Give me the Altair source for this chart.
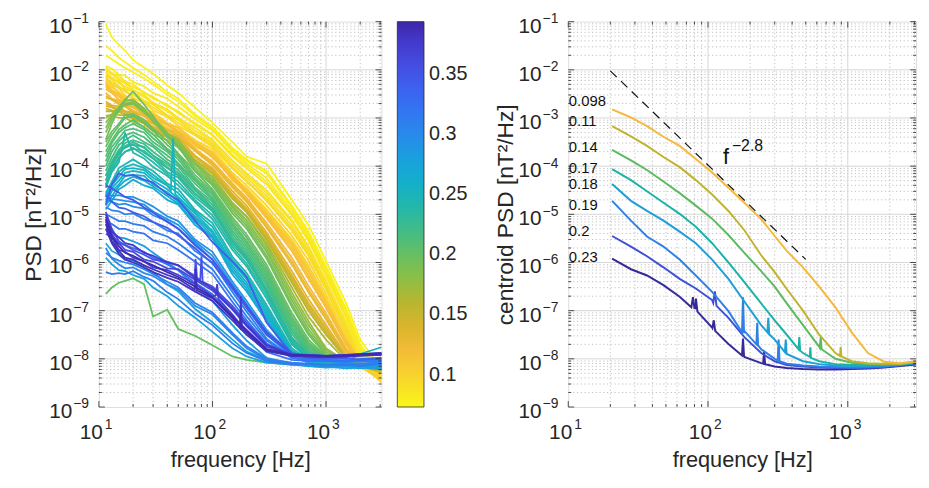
import altair as alt
import pandas as pd

FONT = "Liberation Sans"
INK = "#262626"

XMIN, XMAX = 10, 3080
YMIN, YMAX = 1e-9, 1e-1

# ---------------- left panel: individual spectra (log10 PSD) ----------------
FREQ_L = [11.5, 13, 15, 17, 20, 25, 30, 40, 50, 70, 100, 150, 200, 300, 500, 700, 1000, 1500, 2000, 3070]

CURVES_L = {
    "Y1": (0.076, [-1.05, -1.32, -1.48, -1.60, -1.80, -1.95, -2.08, -2.32, -2.48, -2.78, -3.10, -3.50, -3.80, -3.95, -4.70, -5.22, -5.97, -6.84, -7.60, -8.22]),
    "Y11": (0.078, [-1.70, -1.78, -1.88, -1.96, -2.05, -2.18, -2.30, -2.52, -2.66, -2.96, -3.22, -3.66, -3.90, -4.15, -4.86, -5.40, -6.14, -7.00, -7.76, -8.34]),
    "Y2": (0.079, [-1.50, -1.60, -1.75, -1.84, -1.96, -2.10, -2.24, -2.46, -2.60, -2.92, -3.18, -3.62, -3.86, -4.10, -4.82, -5.35, -6.08, -6.95, -7.70, -8.30]),
    "Y3": (0.082, [-1.92, -1.98, -2.10, -2.12, -2.25, -2.34, -2.48, -2.60, -2.76, -3.02, -3.26, -3.70, -3.95, -4.25, -4.92, -5.45, -6.18, -7.05, -7.80, -8.25]),
    "Y12": (0.083, [-2.00, -2.10, -2.18, -2.26, -2.36, -2.46, -2.60, -2.72, -2.90, -3.10, -3.34, -3.76, -4.00, -4.32, -4.98, -5.50, -6.24, -7.10, -7.84, -8.28]),
    "Y4": (0.085, [-1.95, -2.08, -2.12, -2.24, -2.30, -2.48, -2.56, -2.76, -2.86, -3.14, -3.36, -3.80, -4.05, -4.38, -5.02, -5.55, -6.28, -7.15, -7.88, -8.38]),
    "Y13": (0.087, [-2.10, -2.16, -2.28, -2.34, -2.46, -2.56, -2.70, -2.86, -3.02, -3.26, -3.48, -3.90, -4.18, -4.56, -5.16, -5.70, -6.42, -7.30, -7.98, -8.36]),
    "Y5": (0.088, [-2.02, -2.06, -2.22, -2.28, -2.42, -2.52, -2.68, -2.82, -3.00, -3.20, -3.45, -3.88, -4.15, -4.50, -5.12, -5.66, -6.38, -7.25, -7.95, -8.28]),
    "Y6": (0.091, [-2.05, -2.18, -2.24, -2.40, -2.46, -2.64, -2.72, -2.94, -3.04, -3.32, -3.52, -3.96, -4.24, -4.62, -5.24, -5.76, -6.48, -7.35, -8.02, -8.42]),
    "Y14": (0.093, [-2.18, -2.26, -2.34, -2.46, -2.52, -2.66, -2.78, -2.96, -3.10, -3.34, -3.56, -4.02, -4.30, -4.68, -5.30, -5.82, -6.52, -7.40, -8.06, -8.44]),
    "Y7": (0.094, [-2.12, -2.20, -2.36, -2.42, -2.58, -2.68, -2.84, -2.98, -3.16, -3.36, -3.60, -4.05, -4.32, -4.72, -5.34, -5.86, -6.56, -7.45, -8.08, -8.30]),
    "Y8": (0.097, [-2.15, -2.30, -2.38, -2.54, -2.60, -2.80, -2.88, -3.10, -3.20, -3.46, -3.65, -4.14, -4.40, -4.82, -5.44, -5.96, -6.66, -7.52, -8.12, -8.48]),
    "Y15": (0.099, [-2.28, -2.36, -2.46, -2.60, -2.66, -2.84, -2.94, -3.12, -3.26, -3.54, -3.72, -4.20, -4.48, -4.94, -5.56, -6.10, -6.76, -7.62, -8.14, -8.36]),
    "Y9": (0.100, [-2.22, -2.32, -2.48, -2.56, -2.72, -2.82, -3.00, -3.12, -3.32, -3.50, -3.70, -4.22, -4.46, -4.90, -5.52, -6.06, -6.74, -7.60, -8.15, -8.32]),
    "Y16": (0.102, [-2.32, -2.44, -2.54, -2.62, -2.76, -2.88, -3.00, -3.20, -3.34, -3.56, -3.76, -4.26, -4.56, -5.02, -5.64, -6.20, -6.86, -7.70, -8.16, -8.42]),
    "Y10": (0.104, [-2.25, -2.42, -2.50, -2.68, -2.76, -2.94, -3.02, -3.24, -3.36, -3.60, -3.74, -4.30, -4.52, -4.98, -5.60, -6.16, -6.80, -7.66, -8.18, -8.40]),
    "O1": (0.110, [-2.30, -2.44, -2.50, -2.62, -2.66, -2.84, -2.92, -3.12, -3.20, -3.50, -3.72, -4.18, -4.50, -5.00, -5.62, -6.20, -6.82, -7.60, -8.05, -8.22]),
    "O9": (0.113, [-2.36, -2.46, -2.56, -2.64, -2.72, -2.86, -2.98, -3.14, -3.26, -3.52, -3.78, -4.22, -4.54, -5.04, -5.70, -6.28, -6.88, -7.66, -8.08, -8.26]),
    "O2": (0.116, [-2.40, -2.48, -2.62, -2.66, -2.78, -2.86, -3.02, -3.14, -3.30, -3.54, -3.82, -4.26, -4.58, -5.08, -5.76, -6.34, -6.94, -7.70, -8.10, -8.30]),
    "O3": (0.122, [-2.48, -2.60, -2.64, -2.74, -2.78, -2.94, -3.04, -3.24, -3.30, -3.64, -3.90, -4.36, -4.66, -5.18, -5.90, -6.48, -7.06, -7.78, -8.12, -8.18]),
    "O10": (0.125, [-2.54, -2.62, -2.68, -2.76, -2.84, -2.96, -3.08, -3.26, -3.36, -3.66, -3.94, -4.40, -4.70, -5.24, -5.98, -6.56, -7.12, -7.82, -8.12, -8.22]),
    "O4": (0.128, [-2.58, -2.62, -2.72, -2.76, -2.88, -2.96, -3.12, -3.24, -3.40, -3.68, -3.98, -4.44, -4.74, -5.28, -6.04, -6.62, -7.18, -7.86, -8.15, -8.26]),
    "O5": (0.134, [-2.66, -2.74, -2.76, -2.86, -2.88, -3.04, -3.12, -3.32, -3.40, -3.78, -4.04, -4.52, -4.82, -5.38, -6.18, -6.76, -7.30, -7.92, -8.12, -8.16]),
    "O11": (0.138, [-2.70, -2.76, -2.82, -2.86, -2.92, -3.06, -3.18, -3.32, -3.46, -3.80, -4.08, -4.58, -4.88, -5.42, -6.26, -6.84, -7.36, -7.96, -8.14, -8.24]),
    "O6": (0.143, [-2.75, -2.78, -2.86, -2.88, -2.97, -3.06, -3.22, -3.34, -3.50, -3.80, -4.10, -4.60, -4.90, -5.46, -6.30, -6.88, -7.40, -7.98, -8.15, -8.28]),
    "O12": (0.150, [-2.80, -2.84, -2.88, -2.92, -3.00, -3.10, -3.24, -3.38, -3.52, -3.86, -4.14, -4.64, -4.94, -5.50, -6.36, -6.94, -7.46, -8.00, -8.12, -8.22]),
    "O7": (0.158, [-2.86, -2.86, -2.94, -2.94, -3.02, -3.12, -3.28, -3.40, -3.56, -3.88, -4.16, -4.68, -4.96, -5.54, -6.42, -7.00, -7.50, -8.00, -8.12, -8.20]),
    "O8": (0.166, [-2.95, -2.94, -3.00, -3.00, -3.08, -3.18, -3.34, -3.46, -3.62, -3.94, -4.22, -4.76, -5.04, -5.60, -6.52, -7.12, -7.60, -8.04, -8.10, -8.24]),
    "G1": (0.176, [-3.00, -2.92, -2.78, -2.74, -2.70, -2.90, -3.04, -3.32, -3.44, -3.92, -4.22, -4.78, -5.05, -5.65, -6.62, -7.22, -7.78, -8.05, -8.10, -8.15]),
    "G10": (0.182, [-3.10, -2.94, -2.80, -2.70, -2.66, -2.84, -3.00, -3.30, -3.50, -3.94, -4.28, -4.82, -5.12, -5.72, -6.70, -7.30, -7.82, -8.05, -8.12, -8.16]),
    "G2": (0.187, [-3.20, -2.98, -2.84, -2.64, -2.62, -2.80, -3.08, -3.34, -3.56, -3.96, -4.32, -4.86, -5.18, -5.78, -6.78, -7.38, -7.86, -8.06, -8.12, -8.18]),
    "G11": (0.191, [-3.30, -3.04, -2.86, -2.72, -2.70, -2.86, -3.06, -3.38, -3.58, -4.02, -4.36, -4.92, -5.24, -5.86, -6.86, -7.45, -7.90, -8.08, -8.10, -8.14]),
    "G3": (0.196, [-3.45, -3.12, -2.78, -2.62, -2.45, -2.72, -2.96, -3.40, -3.60, -4.08, -4.40, -4.98, -5.30, -5.92, -6.92, -7.50, -7.92, -8.08, -8.10, -8.12]),
    "G4": (0.199, [-3.50, -3.28, -3.12, -2.94, -2.92, -3.04, -3.22, -3.48, -3.74, -4.10, -4.48, -5.06, -5.42, -6.05, -7.05, -7.60, -7.95, -8.10, -8.12, -8.20]),
    "G9": (0.200, [-6.65, -6.52, -6.42, -6.38, -6.33, -6.45, -7.12, -6.98, -7.38, -7.52, -7.72, -7.95, -8.02, -8.08, -8.12, -8.12, -8.10, -8.14, -8.15, -8.10]),
    "G12": (0.203, [-3.60, -3.36, -3.16, -3.00, -2.96, -3.10, -3.26, -3.56, -3.76, -4.18, -4.52, -5.12, -5.48, -6.12, -7.12, -7.66, -7.96, -8.10, -8.14, -8.18]),
    "G5": (0.206, [-3.70, -3.46, -3.24, -3.14, -3.04, -3.20, -3.34, -3.64, -3.80, -4.24, -4.56, -5.18, -5.55, -6.18, -7.18, -7.70, -7.98, -8.10, -8.14, -8.15]),
    "G13": (0.209, [-3.80, -3.52, -3.30, -3.20, -3.12, -3.24, -3.42, -3.66, -3.86, -4.28, -4.60, -5.22, -5.60, -6.24, -7.24, -7.74, -8.00, -8.12, -8.12, -8.16]),
    "G6": (0.212, [-3.90, -3.60, -3.42, -3.26, -3.22, -3.30, -3.50, -3.70, -3.94, -4.30, -4.66, -5.28, -5.66, -6.30, -7.30, -7.78, -8.00, -8.12, -8.12, -8.18]),
    "G14": (0.215, [-4.00, -3.70, -3.48, -3.36, -3.30, -3.40, -3.56, -3.78, -3.96, -4.36, -4.70, -5.34, -5.72, -6.36, -7.36, -7.82, -8.02, -8.10, -8.14, -8.20]),
    "G7": (0.218, [-4.10, -3.82, -3.56, -3.46, -3.36, -3.50, -3.60, -3.86, -4.00, -4.44, -4.74, -5.40, -5.78, -6.42, -7.42, -7.85, -8.02, -8.10, -8.14, -8.22]),
    "G15": (0.221, [-4.20, -3.90, -3.66, -3.52, -3.46, -3.54, -3.70, -3.92, -4.08, -4.48, -4.80, -5.46, -5.84, -6.48, -7.48, -7.88, -8.04, -8.12, -8.12, -8.16]),
    "G8": (0.224, [-4.30, -3.98, -3.76, -3.60, -3.56, -3.60, -3.78, -3.96, -4.14, -4.50, -4.86, -5.52, -5.88, -6.55, -7.55, -7.90, -8.05, -8.12, -8.10, -8.15]),
    "G16": (0.227, [-4.40, -4.08, -3.84, -3.70, -3.64, -3.68, -3.84, -4.04, -4.20, -4.58, -4.90, -5.56, -5.92, -6.58, -7.58, -7.92, -8.06, -8.12, -8.14, -8.18]),
    "G17": (0.229, [-4.20, -3.94, -3.72, -3.58, -3.50, -3.62, -3.78, -4.02, -4.18, -4.56, -4.88, -5.56, -5.90, -6.58, -7.58, -7.92, -8.06, -8.12, -8.14, -8.14]),
    "C1": (0.232, [-4.30, -4.02, -3.70, -3.62, -3.54, -3.72, -3.84, -4.12, -4.24, -4.64, -4.94, -5.62, -5.95, -6.62, -7.62, -7.95, -8.08, -8.12, -8.15, -8.12]),
    "C9": (0.236, [-4.38, -4.08, -3.82, -3.70, -3.62, -3.78, -3.92, -4.16, -4.32, -4.70, -5.02, -5.68, -6.02, -6.68, -7.66, -7.98, -8.10, -8.14, -8.14, -8.16]),
    "C2": (0.240, [-4.45, -4.12, -3.92, -3.32, -3.72, -3.84, -4.02, -4.20, -4.40, -4.74, -5.10, -5.74, -6.08, -6.75, -7.70, -8.00, -8.10, -8.15, -8.12, -8.18]),
    "C3": (0.245, [-4.55, -4.32, -4.04, -3.96, -3.86, -4.00, -4.10, -4.36, -4.48, -4.90, -5.18, -5.88, -6.22, -6.88, -7.78, -8.02, -8.10, -8.12, -8.16, -8.14]),
    "C10": (0.249, [-4.60, -4.36, -4.12, -4.02, -3.96, -4.04, -4.18, -4.40, -4.56, -4.94, -5.26, -5.94, -6.28, -6.94, -7.82, -8.04, -8.12, -8.14, -8.16, -8.18]),
    "C4": (0.252, [-4.65, -4.40, -4.22, -4.06, -4.04, -4.08, -4.24, -4.40, -4.64, -4.98, -5.34, -6.00, -6.35, -7.00, -7.85, -8.05, -8.12, -8.14, -8.15, -8.20]),
    "C11": (0.256, [-4.70, -4.46, -4.30, -4.14, -4.10, -4.14, -4.30, -4.48, -4.68, -5.04, -5.38, -6.06, -6.42, -7.06, -7.88, -8.06, -8.12, -8.15, -8.14, -8.12]),
    "C5": (0.260, [-4.75, -4.52, -4.38, -4.20, -4.18, -4.20, -4.38, -4.54, -4.74, -5.08, -5.44, -6.12, -6.48, -7.12, -7.90, -8.06, -8.10, -8.15, -8.12, -8.16]),
    "C12": (0.264, [-4.82, -4.62, -4.42, -4.30, -4.22, -4.30, -4.42, -4.62, -4.78, -5.16, -5.48, -6.18, -6.54, -7.18, -7.92, -8.08, -8.12, -8.14, -8.16, -8.18]),
    "C6": (0.268, [-4.90, -4.72, -4.48, -4.40, -4.28, -4.40, -4.46, -4.70, -4.80, -5.22, -5.50, -6.25, -6.60, -7.22, -7.95, -8.08, -8.12, -8.06, -7.90, -7.76]),
    "C7": (0.272, [-5.60, -5.76, -5.84, -5.94, -5.96, -6.12, -6.20, -6.46, -6.60, -6.96, -7.24, -7.60, -7.85, -8.02, -8.10, -8.15, -8.18, -8.16, -8.20, -8.15]),
    "C8": (0.278, [-5.90, -6.04, -6.16, -6.18, -6.26, -6.34, -6.52, -6.70, -6.90, -7.14, -7.44, -7.78, -7.95, -8.08, -8.12, -8.15, -8.16, -8.20, -8.18, -8.22]),
    "C13": (0.283, [-5.30, -5.40, -5.48, -5.50, -5.56, -5.66, -5.80, -6.00, -6.16, -6.50, -6.80, -7.30, -7.62, -7.98, -8.10, -8.14, -8.15, -8.16, -8.14, -8.18]),
    "B2": (0.290, [-4.55, -4.62, -4.60, -4.64, -4.64, -4.74, -4.84, -5.04, -5.14, -5.52, -5.78, -6.40, -6.80, -7.40, -7.92, -8.02, -8.05, -8.08, -8.05, -8.10]),
    "B9": (0.294, [-4.62, -4.68, -4.70, -4.72, -4.74, -4.80, -4.94, -5.10, -5.22, -5.56, -5.86, -6.46, -6.86, -7.46, -7.94, -8.02, -8.04, -8.06, -8.04, -8.06]),
    "B3": (0.298, [-4.70, -4.74, -4.80, -4.78, -4.84, -4.88, -5.02, -5.14, -5.30, -5.60, -5.94, -6.52, -6.92, -7.50, -7.95, -8.02, -8.04, -8.06, -8.05, -8.02]),
    "B7": (0.300, [-5.70, -5.92, -6.04, -6.12, -6.10, -6.22, -6.28, -6.46, -6.56, -6.90, -7.08, -7.50, -7.78, -8.02, -8.10, -8.12, -8.12, -8.14, -8.10, -8.12]),
    "B4": (0.305, [-4.85, -4.92, -4.94, -5.00, -4.98, -5.10, -5.16, -5.34, -5.40, -5.76, -6.00, -6.62, -7.02, -7.58, -7.96, -8.00, -8.05, -8.02, -8.06, -8.05]),
    "B11": (0.308, [-5.80, -5.90, -5.96, -6.00, -6.04, -6.14, -6.24, -6.40, -6.52, -6.84, -7.04, -7.46, -7.74, -8.00, -8.08, -8.10, -8.12, -8.10, -8.12, -8.08]),
    "B5": (0.312, [-5.00, -5.06, -5.14, -5.14, -5.20, -5.24, -5.36, -5.46, -5.60, -5.86, -6.14, -6.72, -7.12, -7.62, -7.98, -8.02, -8.03, -8.05, -8.02, -8.04]),
    "B8": (0.315, [-6.20, -6.24, -6.22, -6.24, -6.18, -6.30, -6.38, -6.62, -6.76, -7.06, -7.30, -7.68, -7.88, -8.05, -8.12, -8.10, -8.14, -8.12, -8.15, -8.10]),
    "B6": (0.320, [-5.15, -5.20, -5.30, -5.30, -5.36, -5.40, -5.54, -5.60, -5.74, -5.98, -6.24, -6.82, -7.20, -7.68, -7.98, -8.00, -8.02, -8.04, -8.00, -7.98]),
    "B10": (0.325, [-5.40, -5.50, -5.60, -5.64, -5.70, -5.78, -5.90, -6.04, -6.16, -6.42, -6.66, -7.12, -7.46, -7.86, -8.02, -8.04, -8.04, -8.05, -8.02, -8.00]),
    "B1": (0.340, [-4.80, -4.38, -4.15, -4.20, -4.18, -4.28, -4.34, -4.58, -4.70, -5.12, -5.58, -5.98, -6.30, -7.25, -7.90, -7.98, -8.00, -7.98, -8.02, -7.98]),
    "I6": (0.345, [-4.60, -4.74, -4.86, -4.88, -4.96, -5.04, -5.16, -5.28, -5.44, -5.70, -6.02, -6.55, -6.95, -7.50, -7.90, -7.95, -7.96, -7.95, -7.94, -7.92]),
    "I7": (0.350, [-4.40, -4.46, -4.55, -4.64, -4.70, -4.86, -4.96, -5.16, -5.30, -5.64, -5.94, -6.50, -6.90, -7.45, -7.88, -7.94, -7.95, -7.94, -7.92, -7.90]),
    "I1": (0.355, [-4.95, -5.30, -5.56, -5.64, -5.74, -5.84, -5.94, -5.98, -6.06, -6.28, -6.50, -6.90, -7.25, -7.70, -7.90, -7.92, -7.94, -7.92, -7.90, -7.88]),
    "I2": (0.362, [-5.05, -5.42, -5.60, -5.74, -5.78, -5.94, -5.98, -6.12, -6.14, -6.36, -6.58, -6.98, -7.32, -7.75, -7.92, -7.94, -7.95, -7.93, -7.92, -7.90]),
    "I3": (0.370, [-5.15, -5.48, -5.74, -5.78, -5.90, -5.98, -6.10, -6.16, -6.26, -6.44, -6.70, -7.08, -7.40, -7.80, -7.93, -7.95, -7.96, -7.94, -7.92, -7.90]),
    "I4": (0.378, [-5.00, -5.36, -5.48, -5.60, -5.64, -5.80, -5.86, -6.00, -6.06, -6.32, -6.54, -6.95, -7.30, -7.72, -7.92, -7.92, -7.94, -7.92, -7.90, -7.88]),
    "I9": (0.382, [-5.30, -5.60, -5.82, -5.94, -6.00, -6.10, -6.20, -6.32, -6.40, -6.60, -6.80, -7.20, -7.50, -7.84, -7.94, -7.95, -7.96, -7.95, -7.93, -7.92]),
    "I5": (0.386, [-5.20, -5.56, -5.76, -5.90, -5.94, -6.06, -6.14, -6.26, -6.34, -6.56, -6.74, -7.15, -7.45, -7.82, -7.94, -7.95, -7.96, -7.95, -7.93, -7.90]),
    "I8": (0.392, [-5.10, -5.46, -5.66, -5.80, -5.86, -5.98, -6.06, -6.20, -6.30, -6.50, -6.72, -7.12, -7.42, -7.80, -7.92, -7.93, -7.94, -7.93, -7.91, -7.88]),
}

# narrow spectral peaks: (frequency, log10 PSD)
SPIKES_L = {
    "C4": [(43, -4.50), (45, -3.42), (47, -4.58)],
    "I1": [(69, -6.27), (71, -5.93), (73, -6.31), (78, -6.37), (80, -5.87), (82, -6.40)],
    "I3": [(107, -6.68), (110, -6.45), (113, -6.76), (175, -7.28), (178, -6.70), (181, -7.30)],
    "I5": [(69, -6.55), (71, -6.12), (73, -6.58), (175, -7.36), (178, -6.95), (181, -7.38)],
}

# colour bar (parula, reversed)
CB_STOPS = [0.073, 0.095, 0.115, 0.135, 0.155, 0.18, 0.205, 0.23, 0.255, 0.28, 0.305, 0.33, 0.355, 0.38, 0.394]
CB_COLORS = ["#F9F718", "#F8D92A", "#F9BE3A", "#E2B52E", "#C3B42A", "#8DBF45", "#5DBF6A", "#2EBA98",
             "#13B3C5", "#1AA0DE", "#2B85EE", "#386BF5", "#4550E6", "#4336C7", "#3E27A8"]
CB_TICKS = [0.1, 0.15, 0.2, 0.25, 0.3, 0.35]

# ---------------- right panel: centroid spectra (log10 PSD) ----------------
FREQ_R = [20.6, 28.1, 36.6, 48, 62.7, 81.8, 107, 140, 182, 240, 300, 366, 478, 625, 816, 1067, 1393, 1820, 2377, 3070]
CENTROID_LABELS = ["0.098", "0.11", "0.14", "0.17", "0.18", "0.19", "0.2", "0.23"]
CENTROID_COLORS = ["#F5B93A", "#C0B42C", "#5DBA62", "#1BB3A8", "#1E9FD6", "#2F80E6", "#3F4FD6", "#362A96"]
CENTROID_LOGPSD = [
    [-2.82, -2.99, -3.17, -3.39, -3.58, -3.85, -4.13, -4.45, -4.76, -5.10, -5.45, -5.76, -6.10, -6.50, -6.93, -7.45, -7.88, -8.06, -8.09, -8.05],
    [-3.17, -3.38, -3.58, -3.81, -4.02, -4.29, -4.59, -4.93, -5.33, -5.85, -6.20, -6.55, -7.00, -7.50, -7.88, -8.05, -8.09, -8.10, -8.10, -8.06],
    [-3.66, -3.88, -4.08, -4.32, -4.56, -4.82, -5.09, -5.43, -5.80, -6.18, -6.50, -6.85, -7.30, -7.75, -8.00, -8.08, -8.11, -8.12, -8.11, -8.07],
    [-4.06, -4.29, -4.52, -4.76, -4.99, -5.26, -5.60, -6.00, -6.41, -6.85, -7.20, -7.50, -7.88, -8.05, -8.11, -8.13, -8.13, -8.13, -8.12, -8.08],
    [-4.37, -4.72, -4.93, -5.13, -5.36, -5.60, -5.94, -6.34, -6.81, -7.30, -7.60, -7.90, -8.05, -8.11, -8.14, -8.15, -8.15, -8.14, -8.12, -8.08],
    [-4.72, -5.13, -5.46, -5.67, -5.94, -6.27, -6.61, -7.01, -7.42, -7.80, -8.00, -8.10, -8.14, -8.16, -8.17, -8.18, -8.17, -8.16, -8.13, -8.09],
    [-5.45, -5.67, -5.87, -6.10, -6.34, -6.54, -6.78, -7.15, -7.55, -7.88, -8.05, -8.13, -8.16, -8.18, -8.19, -8.19, -8.19, -8.17, -8.14, -8.10],
    [-5.92, -6.14, -6.27, -6.47, -6.71, -6.95, -7.35, -7.69, -7.96, -8.09, -8.16, -8.19, -8.21, -8.22, -8.22, -8.21, -8.20, -8.18, -8.15, -8.12],
]
SPIKES_R = {
    "0.23": [(76, -6.93), (78, -6.72), (80, -6.95), (82, -6.75), (84, -7.02), (107.5, -7.36), (110, -7.20), (112.5, -7.42),
             (175, -7.93), (178, -7.58), (181, -7.95), (248, -8.10), (252, -7.85), (256, -8.11)],
    "0.2": [(109, -6.84), (112, -6.60), (115, -6.90)],
    "0.19": [(175, -7.45), (178, -6.72), (181, -7.47), (222, -7.70), (225, -7.25), (228, -7.72), (315, -8.03), (320, -7.60), (325, -8.05)],
    "0.18": [(266, -7.45), (270, -7.15), (274, -7.49), (355, -7.86), (360, -7.60), (365, -7.89)],
    "0.17": [(444, -7.80), (450, -7.55), (456, -7.83), (535, -7.96), (540, -7.76), (545, -7.98)],
    "0.14": [(630, -7.77), (640, -7.55), (650, -7.80)],
    "0.11": [(880, -7.94), (890, -7.75), (900, -7.95)],
}
LABEL_F_R = 10.1
LABEL_PSD_R = [2.26e-3, 8.7e-4, 2.5e-4, 9.1e-5, 4.3e-5, 1.55e-5, 4.4e-6, 1.3e-6]

SLOPE_F = [20, 500]
SLOPE_PSD = [9.5e-3, 1.16e-6]
SLOPE_TEXT_F, SLOPE_TEXT_PSD = 128, 1.12e-4

# ---------------- axes: decades, minor ticks ----------------
Y_DECADES = [1e-9, 1e-8, 1e-7, 1e-6, 1e-5, 1e-4, 1e-3, 1e-2, 1e-1]
Y_EXP = ["\u22129", "\u22128", "\u22127", "\u22126", "\u22125", "\u22124", "\u22123", "\u22122", "\u22121"]
X_DECADES = [10, 100, 1000]
X_EXP = ["1", "2", "3"]
X_MINOR = [20, 30, 40, 50, 60, 70, 80, 90, 200, 300, 400, 500, 600, 700, 800, 900, 2000, 3000]
Y_MINOR = [k * d for d in Y_DECADES[:-1] for k in range(2, 10)]

W_L, W_R, H = 286, 352, 390


def axes(ytitle, ytitle_pad):
    ax_x = alt.Axis(title="frequency [Hz]", labels=False, ticks=False, domain=False, grid=False,
                    titleFont=FONT, titleFontSize=22, titleFontWeight="normal", titleColor=INK,
                    titlePadding=43, minExtent=0, maxExtent=0)
    ax_y = alt.Axis(title=ytitle, labels=False, ticks=False, domain=False, grid=False,
                    titleFont=FONT, titleFontSize=23, titleFontWeight="normal", titleColor=INK,
                    titlePadding=ytitle_pad, minExtent=0, maxExtent=0)
    X = lambda: alt.X("f:Q", scale=alt.Scale(type="log", domain=[XMIN, XMAX], nice=False), axis=ax_x)
    Y = lambda: alt.Y("p:Q", scale=alt.Scale(type="log", domain=[YMIN, YMAX], nice=False), axis=ax_y)
    return X, Y


def panel(content, width, X, Y):
    dxM = pd.DataFrame({"f": X_DECADES[1:]})
    dxm = pd.DataFrame({"f": X_MINOR})
    dyM = pd.DataFrame({"p": Y_DECADES[1:-1]})
    dym = pd.DataFrame({"p": Y_MINOR})
    dot = dict(color="#A6A6A6", strokeWidth=0.7, strokeDash=[1.2, 2.6])
    layers = [
        alt.Chart(dxm).mark_rule(**dot).encode(x=X()),
        alt.Chart(dym).mark_rule(**dot).encode(y=Y()),
        alt.Chart(dxM).mark_rule(color="#D6D6D6", strokeWidth=1).encode(x=X()),
        alt.Chart(dyM).mark_rule(color="#D6D6D6", strokeWidth=1).encode(y=Y()),
    ]
    layers += content
    for d, ln in ((pd.DataFrame({"f": X_DECADES}), 6), (dxm, 3)):
        r = alt.Chart(d).mark_rule(color=INK, strokeWidth=0.8)
        layers.append(r.encode(x=X(), y=alt.value(H), y2=alt.value(H - ln)))
        layers.append(r.encode(x=X(), y=alt.value(0), y2=alt.value(ln)))
    for d, ln in ((pd.DataFrame({"p": Y_DECADES}), 6), (dym, 3)):
        r = alt.Chart(d).mark_rule(color=INK, strokeWidth=0.8)
        layers.append(r.encode(y=Y(), x=alt.value(0), x2=alt.value(ln)))
        layers.append(r.encode(y=Y(), x=alt.value(width), x2=alt.value(width - ln)))
    yl = pd.DataFrame({"p": Y_DECADES, "b": ["10"] * len(Y_DECADES), "e": Y_EXP})
    xl = pd.DataFrame({"f": X_DECADES, "b": ["10"] * len(X_DECADES), "e": X_EXP})
    txt = dict(font=FONT, color=INK, baseline="alphabetic")
    layers += [
        alt.Chart(yl).mark_text(fontSize=21, align="right", dx=-27, dy=11, **txt).encode(y=Y(), x=alt.value(0), text="b:N"),
        alt.Chart(yl).mark_text(fontSize=14, align="left", dx=-26, dy=1.5, **txt).encode(y=Y(), x=alt.value(0), text="e:N"),
        alt.Chart(xl).mark_text(fontSize=21, align="right", dx=4, dy=32, **txt).encode(x=X(), y=alt.value(H), text="b:N"),
        alt.Chart(xl).mark_text(fontSize=14, align="left", dx=6, dy=22, **txt).encode(x=X(), y=alt.value(H), text="e:N"),
    ]
    return alt.layer(*layers).properties(width=width, height=H)


# ---------------- left panel ----------------
rows = []
for name, (c, vals) in sorted(CURVES_L.items(), key=lambda kv: kv[1][0]):
    for f, v in list(zip(FREQ_L, vals)) + SPIKES_L.get(name, []):
        rows.append({"id": name, "c": c, "f": f, "p": 10 ** v})
df_left = pd.DataFrame(rows)

XL, YL = axes("PSD [nT²/Hz]", 54)
left_lines = alt.Chart(df_left).mark_line(strokeWidth=1.8).encode(
    x=XL(), y=YL(),
    color=alt.Color("c:Q", scale=alt.Scale(domain=CB_STOPS, range=CB_COLORS, interpolate="rgb"),
                    legend=alt.Legend(title=None, orient="right", direction="vertical", gradientLength=H,
                                      gradientThickness=27, gradientStrokeColor=INK, gradientStrokeWidth=0.8,
                                      values=CB_TICKS, format=".2~f", labelFont=FONT, labelFontSize=20,
                                      labelColor=INK, labelOffset=5, labelOverlap=False, offset=12, padding=0)),
    detail="id:N",
)
left = panel([left_lines], W_L, XL, YL)

# ---------------- right panel ----------------
rows = []
for lab, vals in reversed(list(zip(CENTROID_LABELS, CENTROID_LOGPSD))):
    for f, v in list(zip(FREQ_R, vals)) + SPIKES_R.get(lab, []):
        rows.append({"id": lab, "f": f, "p": 10 ** v})
df_right = pd.DataFrame(rows)

XR, YR = axes("centroid PSD [nT²/Hz]", 51)
right_lines = alt.Chart(df_right).mark_line(strokeWidth=2).encode(
    x=XR(), y=YR(),
    color=alt.Color("id:N", scale=alt.Scale(domain=CENTROID_LABELS, range=CENTROID_COLORS), legend=None),
    detail="id:N",
)
slope = alt.Chart(pd.DataFrame({"f": SLOPE_F, "p": SLOPE_PSD})).mark_line(
    color="#111111", strokeWidth=1.2, strokeDash=[9, 6]).encode(x=XR(), y=YR())
lab_df = pd.DataFrame({"f": [LABEL_F_R] * len(CENTROID_LABELS), "p": LABEL_PSD_R, "t": CENTROID_LABELS})
labels = alt.Chart(lab_df).mark_text(font=FONT, fontSize=15, color="#111111", align="left", baseline="middle").encode(
    x=XR(), y=YR(), text="t:N")
ann = pd.DataFrame({"f": [SLOPE_TEXT_F], "p": [SLOPE_TEXT_PSD], "b": ["f"], "e": ["\u22122.8"]})
ann_f = alt.Chart(ann).mark_text(font=FONT, fontSize=22, color="#111111", align="left", baseline="alphabetic").encode(
    x=XR(), y=YR(), text="b:N")
ann_e = alt.Chart(ann).mark_text(font=FONT, fontSize=16, color="#111111", align="left", baseline="alphabetic",
                                 dx=9, dy=-13).encode(x=XR(), y=YR(), text="e:N")
right = panel([right_lines, slope, labels, ann_f, ann_e], W_R, XR, YR)

chart = alt.hconcat(left, right, spacing=26).resolve_scale(
    x="independent", y="independent", color="independent"
).properties(
    padding={"left": 14, "top": 1, "right": 0, "bottom": 0}
).configure_view(stroke=INK, strokeWidth=1).configure(font=FONT)

chart.save("out.html", embed_options={"renderer": "svg", "actions": False})
